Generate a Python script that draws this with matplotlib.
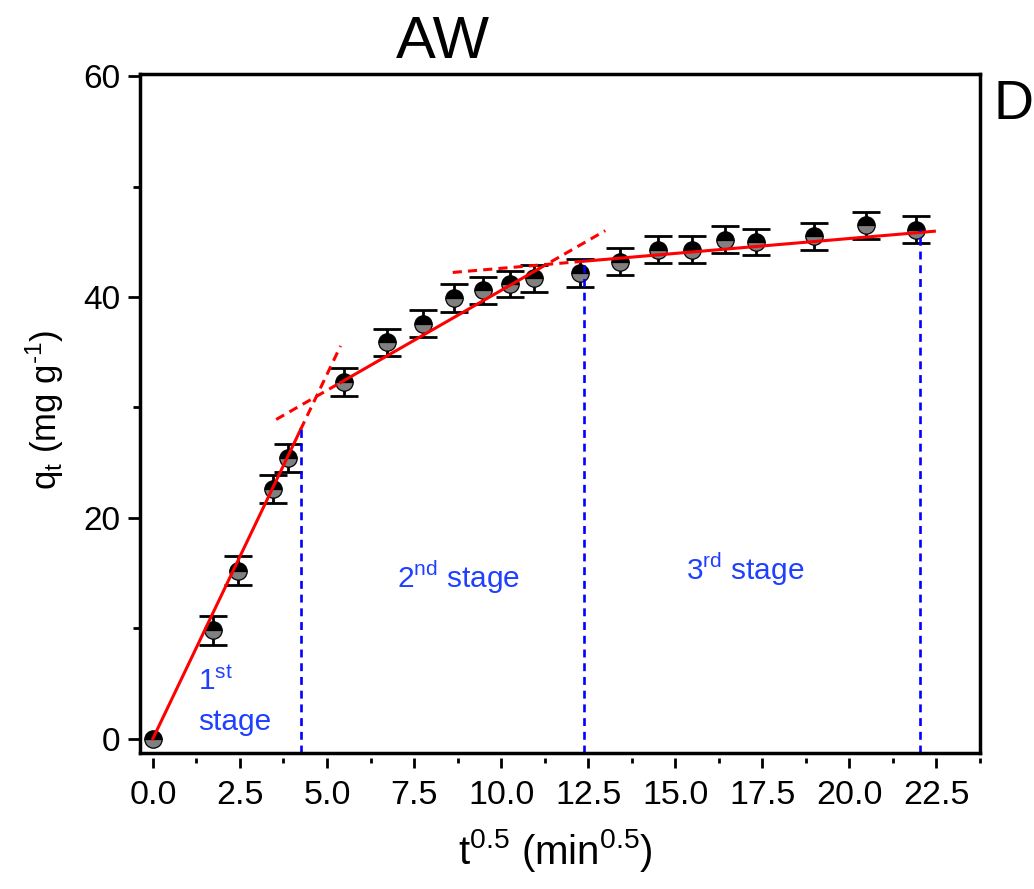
import matplotlib
matplotlib.use('Agg')
import matplotlib.pyplot as plt
import numpy as np
from matplotlib.ticker import MultipleLocator

# measured data: square root of contact time vs uptake
t_sqrt = [0.0, 1.73, 2.45, 3.46, 3.87, 5.48, 6.71, 7.75, 8.66, 9.49, 10.25,
          10.95, 12.25, 13.42, 14.49, 15.49, 16.43, 17.32, 18.97, 20.49, 21.91]
qt = [0.0, 9.8, 15.2, 22.6, 25.4, 32.3, 35.9, 37.6, 39.9, 40.6, 41.2,
      41.7, 42.2, 43.2, 44.3, 44.3, 45.2, 45.0, 45.5, 46.5, 46.1]
qt_err = [0.0, 1.3, 1.3, 1.25, 1.25, 1.25, 1.2, 1.2, 1.25, 1.2, 1.2,
          1.2, 1.25, 1.2, 1.2, 1.2, 1.2, 1.2, 1.2, 1.2, 1.25]

# intraparticle diffusion fits, one per stage: q = k * sqrt(t) + C
fit_k = [6.6, 1.81, 0.27]
fit_c = [0.0, 22.5, 39.9]
fit_solid = [(0.0, 4.24), (5.39, 11.05), (12.3, 22.44)]
fit_dashed = [[(4.24, 5.39)], [(3.54, 5.39), (11.05, 12.99)], [(8.61, 12.3)]]

# stage boundaries (x, top of the dropline)
bound_x = [4.24, 12.39, 22.04]
bound_top = [28.2, 43.5, 46.1]

stage_labels = ['1$^{\\mathregular{st}}$\nstage', '2$^{\\mathregular{nd}}$ stage', '3$^{\\mathregular{rd}}$ stage']
stage_pos = [(1.29, 3.4), (7.0, 14.6), (15.3, 15.3)]

x_ticks = [0.0, 2.5, 5.0, 7.5, 10.0, 12.5, 15.0, 17.5, 20.0, 22.5]
y_ticks = [0, 20, 40, 60]

plt.rcParams['font.family'] = ['Liberation Sans', 'DejaVu Sans']

fig = plt.figure(figsize=(10.34, 8.89), dpi=100)
ax = fig.add_axes([140/1034, 1 - 753/889, 840/1034, 679/889])
ax.set_xlim(-0.37, 23.75)
ax.set_ylim(-1.3, 60.2)

# error bars (skip the zero-error origin point) and half-filled markers
x_arr, q_arr, e_arr = np.array(t_sqrt), np.array(qt), np.array(qt_err)
has_err = e_arr > 0
ax.errorbar(x_arr[has_err], q_arr[has_err], yerr=e_arr[has_err], fmt='none',
            ecolor='black', elinewidth=2.0, capsize=10, capthick=2.0, zorder=2)
ax.plot(t_sqrt, qt, 'o', ms=12.5, mfc='black', mfcalt='#808080',
        fillstyle='top', mec='black', mew=0.9, ls='none', zorder=3)

# fitted lines
for k, c, seg, dsegs in zip(fit_k, fit_c, fit_solid, fit_dashed):
    xs = np.array(seg)
    ax.plot(xs, k * xs + c, color='red', lw=2.2, zorder=4)
    for d in dsegs:
        xd = np.array(d)
        ax.plot(xd, k * xd + c, color='red', lw=2.2, ls=(0, (3, 2)), zorder=4)

# stage boundaries
ax.vlines(bound_x, -1.3, bound_top, colors='#0000ff', lw=1.9,
          linestyles=(0, (3, 2.2)), zorder=4)

for lab, (x, y) in zip(stage_labels, stage_pos):
    ax.text(x, y, lab, color='#2040ff', fontsize=21.5, ha='left',
            va='center', linespacing=1.55)

# axes styling
for s in ax.spines.values():
    s.set_linewidth(2.5)
ax.spines['bottom'].set_position(('outward', 3.5))
ax.spines['bottom'].set_visible(False)
ax.plot([0, 1], [0, 0], transform=ax.transAxes, color='black', lw=2.5,
        clip_on=False, solid_capstyle='projecting', zorder=5)

ax.set_xticks(x_ticks)
ax.set_xticklabels(['{:.1f}'.format(v) for v in x_ticks], fontsize=24.5)
ax.xaxis.set_minor_locator(MultipleLocator(1.25))
ax.set_yticks(y_ticks)
ax.set_yticklabels([str(v) for v in y_ticks], fontsize=24)
ax.yaxis.set_minor_locator(MultipleLocator(10))
ax.tick_params(axis='x', which='major', length=7, width=2, pad=9)
ax.tick_params(axis='x', which='minor', length=3.5, width=2)
ax.tick_params(axis='y', which='major', length=9, width=2, pad=5)
ax.tick_params(axis='y', which='minor', length=5, width=2)

fig.text(555/1034, 1 - 850/889, r'$\mathregular{t^{0.5}}$ (min$^{\mathregular{0.5}}$)',
         fontsize=29, ha='center', va='center')
fig.text(45/1034, 1 - 410/889, 'q$_{\\mathregular{t}}$ (mg g$^{\\mathregular{\u2010 1}}$)',
         fontsize=25, rotation=90, ha='center', va='center')
fig.text(443/1034, 1 - 42/889, 'AW', fontsize=43, ha='center', va='center')
fig.text(993/1034, 1 - 105/889, 'D', fontsize=40, ha='left', va='center')

fig.savefig('out.png', dpi=100)
